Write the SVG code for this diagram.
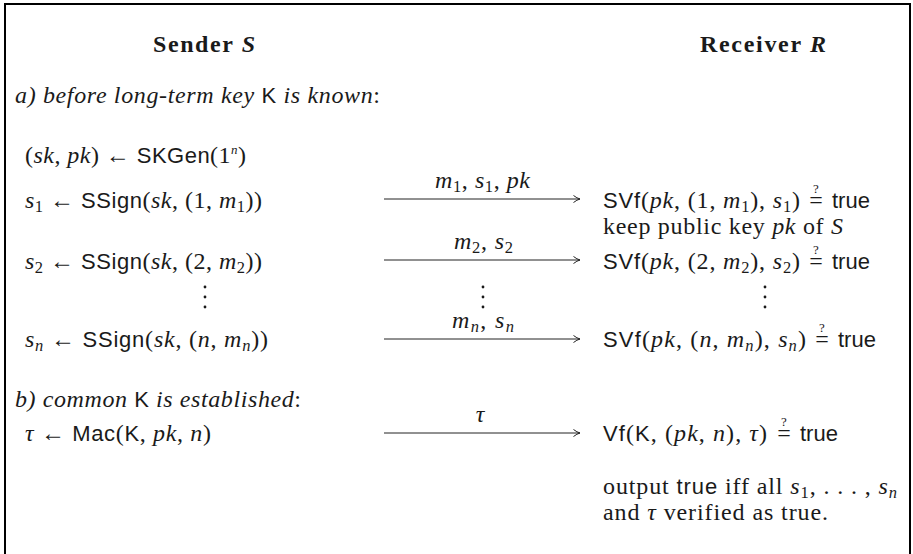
<svg xmlns="http://www.w3.org/2000/svg" width="913" height="554" viewBox="0 0 913 554">
  <defs>
    <marker id="tip" viewBox="0 0 10 10" refX="9" refY="5" markerWidth="10" markerHeight="10" markerUnits="userSpaceOnUse" orient="auto">
      <path d="M2.5,1.5 Q6,4.2 9,5 Q6,5.8 2.5,8.5" fill="none" stroke="#222" stroke-width="1"/>
    </marker>
  </defs>
  <style>
    text { font-family: "Liberation Serif", serif; font-size: 24px; fill: #1a1a1a; }
    .i { font-style: italic; }
    .sf { font-family: "Liberation Sans", sans-serif; font-size: 22px; }
    .sb { font-size: 16.5px; }
    .q { font-size: 13px; }
    .h { font-weight: bold; }
    .msg { stroke: #222; stroke-width: 1; fill: none; marker-end: url(#tip); }
    .dot { fill: #1a1a1a; }
  </style>

  <rect width="913" height="554" fill="#ffffff"/>
  <!-- frame, open at the bottom edge -->
  <path d="M5,554 V4 H910 V554" fill="none" stroke="#000" stroke-width="2"/>

  <!-- party headers -->
  <g id="sender-head"><text class="h" x="153" y="52" textLength="102" lengthAdjust="spacing">Sender <tspan class="i">S</tspan></text></g>
  <g id="receiver-head"><text class="h" x="700" y="52" textLength="126" lengthAdjust="spacing">Receiver <tspan class="i">R</tspan></text></g>

  <!-- phase a: signatures under a fresh key pair -->
  <g id="phase-a"><text x="15" y="103" textLength="365" lengthAdjust="spacing"><tspan class="i">a) before long-term key </tspan><tspan class="sf">K</tspan><tspan class="i"> is known</tspan>:</text></g>

  <g id="keygen"><text x="25" y="163" textLength="221" lengthAdjust="spacing">(<tspan class="i">sk</tspan>, <tspan class="i">pk</tspan>) ← <tspan class="sf">SKGen</tspan>(1<tspan class="q i" dy="-9">n</tspan><tspan dy="9">)</tspan></text></g>

  <g id="sign-1"><text x="25" y="208" textLength="237" lengthAdjust="spacing"><tspan class="i">s</tspan><tspan class="sb" dy="4">1</tspan><tspan dy="-4"> ← </tspan><tspan class="sf">SSign</tspan>(<tspan class="i">sk</tspan>, (1, <tspan class="i">m</tspan><tspan class="sb" dy="4">1</tspan><tspan dy="-4">))</tspan></text></g>
  <g id="sign-2"><text x="25" y="269" textLength="237" lengthAdjust="spacing"><tspan class="i">s</tspan><tspan class="sb" dy="4">2</tspan><tspan dy="-4"> ← </tspan><tspan class="sf">SSign</tspan>(<tspan class="i">sk</tspan>, (2, <tspan class="i">m</tspan><tspan class="sb" dy="4">2</tspan><tspan dy="-4">))</tspan></text></g>
  <g id="sign-n"><text x="25" y="347" textLength="243" lengthAdjust="spacing"><tspan class="i">s</tspan><tspan class="sb i" dy="4">n</tspan><tspan dy="-4"> ← </tspan><tspan class="sf">SSign</tspan>(<tspan class="i">sk</tspan>, (<tspan class="i">n</tspan>, <tspan class="i">m</tspan><tspan class="sb i" dy="4">n</tspan><tspan dy="-4">))</tspan></text></g>

  <!-- phase b: MAC over the public key and message count -->
  <g id="phase-b"><text x="15" y="407" textLength="286" lengthAdjust="spacing"><tspan class="i">b) common </tspan><tspan class="sf">K</tspan><tspan class="i"> is established</tspan>:</text></g>
  <g id="mac"><text x="25" y="441" textLength="186" lengthAdjust="spacing"><tspan class="i">τ</tspan> ← <tspan class="sf">Mac</tspan>(<tspan class="sf">K</tspan>, <tspan class="i">pk</tspan>, <tspan class="i">n</tspan>)</text></g>

  <!-- receiver-side checks -->
  <g id="verify-1">
    <text x="603" y="208" textLength="197" lengthAdjust="spacing"><tspan class="sf">SVf</tspan>(<tspan class="i">pk</tspan>, (1, <tspan class="i">m</tspan><tspan class="sb" dy="4">1</tspan><tspan dy="-4">), </tspan><tspan class="i">s</tspan><tspan class="sb" dy="4">1</tspan><tspan dy="-4">)</tspan></text>
    <text x="816" y="208" text-anchor="middle">=</text><text class="q" x="816" y="193" text-anchor="middle">?</text>
    <text class="sf" x="832" y="208">true</text>
  </g>
  <g id="keep-pk"><text x="603" y="234" textLength="240" lengthAdjust="spacing">keep public key <tspan class="i">pk</tspan> of <tspan class="i">S</tspan></text></g>
  <g id="verify-2">
    <text x="603" y="269" textLength="197" lengthAdjust="spacing"><tspan class="sf">SVf</tspan>(<tspan class="i">pk</tspan>, (2, <tspan class="i">m</tspan><tspan class="sb" dy="4">2</tspan><tspan dy="-4">), </tspan><tspan class="i">s</tspan><tspan class="sb" dy="4">2</tspan><tspan dy="-4">)</tspan></text>
    <text x="816" y="269" text-anchor="middle">=</text><text class="q" x="816" y="254" text-anchor="middle">?</text>
    <text class="sf" x="832" y="269">true</text>
  </g>
  <g id="verify-n">
    <text x="603" y="347" textLength="203" lengthAdjust="spacing"><tspan class="sf">SVf</tspan>(<tspan class="i">pk</tspan>, (<tspan class="i">n</tspan>, <tspan class="i">m</tspan><tspan class="sb i" dy="4">n</tspan><tspan dy="-4">), </tspan><tspan class="i">s</tspan><tspan class="sb i" dy="4">n</tspan><tspan dy="-4">)</tspan></text>
    <text x="822" y="347" text-anchor="middle">=</text><text class="q" x="822" y="332" text-anchor="middle">?</text>
    <text class="sf" x="838" y="347">true</text>
  </g>
  <g id="verify-mac">
    <text x="603" y="441" textLength="164" lengthAdjust="spacing"><tspan class="sf">Vf</tspan>(<tspan class="sf">K</tspan>, (<tspan class="i">pk</tspan>, <tspan class="i">n</tspan>), <tspan class="i">τ</tspan>)</text>
    <text x="784" y="441" text-anchor="middle">=</text><text class="q" x="784" y="426" text-anchor="middle">?</text>
    <text class="sf" x="800" y="441">true</text>
  </g>
  <g id="output">
    <text x="603" y="494" textLength="294" lengthAdjust="spacing">output <tspan class="sf">true</tspan> iff all <tspan class="i">s</tspan><tspan class="sb" dy="4">1</tspan><tspan dy="-4">, . . . , </tspan><tspan class="i">s</tspan><tspan class="sb i" dy="4">n</tspan></text>
    <text x="603" y="520" textLength="225" lengthAdjust="spacing">and <tspan class="i">τ</tspan> verified as true.</text>
  </g>

  <!-- vertical ellipses -->
  <g id="vdots">
    <circle class="dot" cx="205" cy="287" r="1.4"/><circle class="dot" cx="205" cy="297" r="1.4"/><circle class="dot" cx="205" cy="307" r="1.4"/>
    <circle class="dot" cx="483" cy="287" r="1.4"/><circle class="dot" cx="483" cy="297" r="1.4"/><circle class="dot" cx="483" cy="307" r="1.4"/>
    <circle class="dot" cx="765" cy="287" r="1.4"/><circle class="dot" cx="765" cy="297" r="1.4"/><circle class="dot" cx="765" cy="307" r="1.4"/>
  </g>

  <!-- messages from sender to receiver -->
  <g id="connectors">
    <line class="msg" x1="384" y1="199" x2="580" y2="199"/>
    <line class="msg" x1="384" y1="260" x2="580" y2="260"/>
    <line class="msg" x1="384" y1="339" x2="580" y2="339"/>
    <line class="msg" x1="384" y1="433" x2="580" y2="433"/>
    <text x="435" y="188" textLength="95" lengthAdjust="spacing"><tspan class="i">m</tspan><tspan class="sb" dy="4">1</tspan><tspan dy="-4">, </tspan><tspan class="i">s</tspan><tspan class="sb" dy="4">1</tspan><tspan dy="-4">, </tspan><tspan class="i">pk</tspan></text>
    <text x="454" y="249" textLength="59" lengthAdjust="spacing"><tspan class="i">m</tspan><tspan class="sb" dy="4">2</tspan><tspan dy="-4">, </tspan><tspan class="i">s</tspan><tspan class="sb" dy="4">2</tspan></text>
    <text x="452" y="328" textLength="62" lengthAdjust="spacing"><tspan class="i">m</tspan><tspan class="sb i" dy="4">n</tspan><tspan dy="-4">, </tspan><tspan class="i">s</tspan><tspan class="sb i" dy="4">n</tspan></text>
    <text x="480" y="422" text-anchor="middle" class="i">τ</text>
  </g>
</svg>
